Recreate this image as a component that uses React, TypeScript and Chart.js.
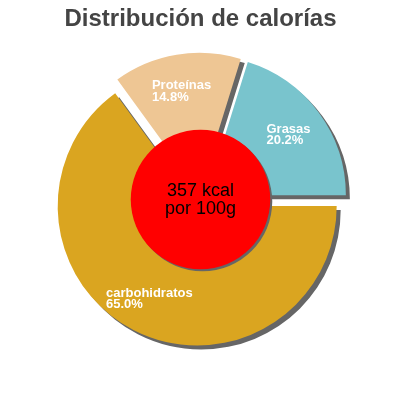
import { useEffect, useRef } from "react"
import { Chart, registerables } from "chart.js"

// Register Chart.js components
Chart.register(...registerables)

// Chart data
const categories = ["carbohidratos", "Proteínas", "Grasas"]
const percentages = [65.0, 14.8, 20.2]
const sliceColors = ["#DAA520", "#EEC694", "#79C4CD"]
const titleText = "Distribución de calorías"
const centerLines = ["357 kcal", "por 100g"]

const FONT = "'Liberation Sans', Arial, sans-serif"
const EXPLODE = 7.3
const SHADOW = "#666666"

// Draws the slices pulled out from the centre with a hard drop shadow,
// then the slice labels and the red kcal disc on top.
const explodedPie = {
    id: "explodedPie",
    beforeDatasetDraw(chart: any, args: any) {
        const ctx = chart.ctx
        const meta = chart.getDatasetMeta(args.index)
        meta.data.forEach((arc: any) => {
            const mid = (arc.startAngle + arc.endAngle) / 2
            ctx.save()
            ctx.translate(Math.cos(mid) * EXPLODE, Math.sin(mid) * EXPLODE)
            ctx.shadowColor = SHADOW
            ctx.shadowOffsetX = 4
            ctx.shadowOffsetY = 4
            ctx.shadowBlur = 0
            arc.draw(ctx)
            ctx.restore()
        })
        return false
    },
    afterDatasetsDraw(chart: any) {
        const ctx = chart.ctx
        const meta = chart.getDatasetMeta(0)
        const first = meta.data[0]
        if (!first) return

        // slice labels
        ctx.save()
        ctx.font = `bold 13px ${FONT}`
        ctx.fillStyle = "#ffffff"
        ctx.textAlign = "left"
        ctx.textBaseline = "alphabetic"
        meta.data.forEach((arc: any, i: number) => {
            const mid = (arc.startAngle + arc.endAngle) / 2
            const rho = EXPLODE + arc.outerRadius * 0.74
            const ax = arc.x + Math.cos(mid) * rho
            const ay = arc.y + Math.sin(mid) * rho
            const lines = [categories[i], `${percentages[i].toFixed(1)}%`]
            const w = Math.max(...lines.map((l) => ctx.measureText(l).width))
            ctx.fillText(lines[0], ax - w / 2 - 1, ay - 1)
            ctx.fillText(lines[1], ax - w / 2 - 1, ay + 10.5)
        })
        ctx.restore()

        // centre disc
        const cx = first.x
        const cy = first.y
        ctx.save()
        ctx.shadowColor = SHADOW
        ctx.shadowOffsetX = 2
        ctx.shadowOffsetY = 2
        ctx.shadowBlur = 0
        ctx.fillStyle = "#ff0000"
        ctx.beginPath()
        ctx.arc(cx, cy, first.outerRadius * 0.5, 0, Math.PI * 2)
        ctx.fill()
        ctx.restore()

        ctx.save()
        ctx.font = `18px ${FONT}`
        ctx.fillStyle = "#000000"
        ctx.textAlign = "center"
        ctx.textBaseline = "alphabetic"
        ctx.fillText(centerLines[0], cx, cy - 3.5)
        ctx.fillText(centerLines[1], cx, cy + 14.8)
        ctx.restore()
    },
}

export default function App() {
    const chartRef = useRef<HTMLCanvasElement>(null)
    const chartInstance = useRef<Chart | null>(null)

    useEffect(() => {
        if (!chartRef.current) return
        if (chartInstance.current) {
            chartInstance.current.destroy()
        }
        const ctx = chartRef.current.getContext("2d")
        if (!ctx) return

        chartInstance.current = new Chart(ctx, {
            type: "pie",
            data: {
                labels: categories,
                datasets: [
                    {
                        data: percentages,
                        backgroundColor: sliceColors,
                        borderWidth: 0,
                        radius: 139.5,
                    } as any,
                ],
            },
            options: {
                animation: false,
                responsive: true,
                maintainAspectRatio: false,
                rotation: 90,
                layout: {
                    padding: { top: 0, left: 1, right: 0, bottom: 51 },
                },
                plugins: {
                    legend: { display: false },
                    tooltip: { enabled: false },
                    title: {
                        display: true,
                        text: titleText,
                        color: "#444444",
                        font: { family: FONT, size: 24, weight: "bold" },
                        padding: { top: 5, bottom: 16.2 },
                    },
                },
            },
            plugins: [explodedPie],
        })

        return () => {
            if (chartInstance.current) {
                chartInstance.current.destroy()
                chartInstance.current = null
            }
        }
    }, [])

    return (
        <div style={{ position: "absolute", left: 0, top: 0, width: "400px", height: "400px" }}>
            <canvas ref={chartRef}></canvas>
        </div>
    )
}
